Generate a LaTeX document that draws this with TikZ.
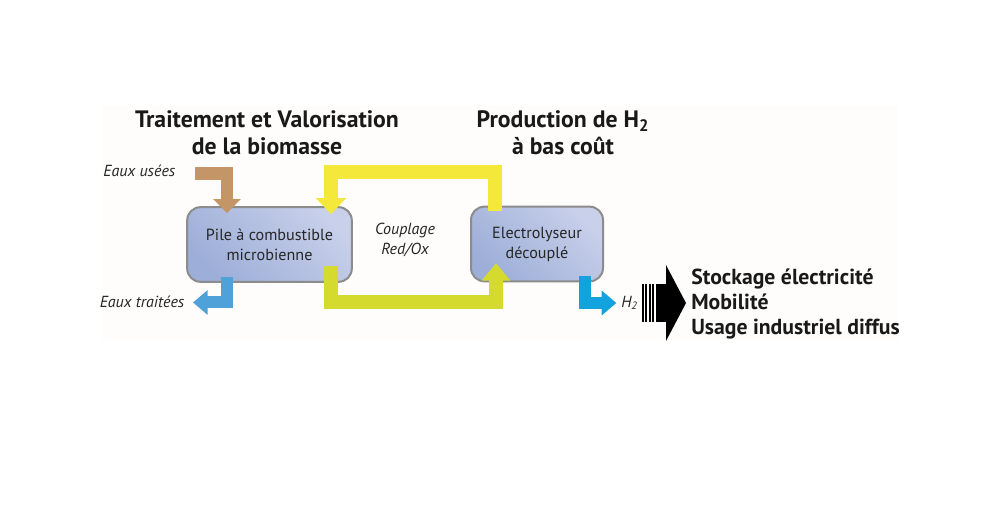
\documentclass[tikz,border=0pt]{standalone}
\usepackage{fontspec}
\setmainfont{PT Sans}
\usepackage{tikz}
\usetikzlibrary{arrows.meta}

\definecolor{paper}{HTML}{FEFDFB}
\definecolor{boxblue}{HTML}{9DAED8}
\definecolor{boxlight}{HTML}{C8D0EA}
\definecolor{boxedge}{HTML}{8C8C8C}
\definecolor{sewage}{HTML}{C39567}
\definecolor{redox}{HTML}{F4E83A}
\definecolor{redoxback}{HTML}{D4DB2E}
\definecolor{cleanwater}{HTML}{4EA2D9}
\definecolor{gasout}{HTML}{12A2DE}

\begin{document}
\begin{tikzpicture}[x=0.75pt, y=-0.75pt,
    title/.style={font=\bfseries\fontsize{17.8}{20.25}\selectfont, align=center, text=black!90},
    unit/.style={draw=boxedge, line width=1.5pt, rounded corners=10pt,
        top color=boxlight, bottom color=boxblue, shading angle=-45,
        minimum height=56pt, inner sep=0pt,
        align=center, text=black!85, font=\fontsize{12.1}{15}\selectfont},
    label/.style={font=\itshape\fontsize{12}{14.5}\selectfont, text=black!85},
    brownflow/.style={draw=sewage, line width=9.5pt, -{Triangle[width=20pt,length=10.5pt]}},
    yellowflow/.style={draw=redox, line width=11pt, -{Triangle[width=22pt,length=12pt]}},
    greenflow/.style={draw=redoxback, line width=10.5pt, -{Triangle[width=21pt,length=13pt]}},
    blueflow/.style={draw=#1, line width=9pt, -{Triangle[width=18pt,length=11pt]}}
]

    \useasboundingbox (0,0) rectangle (993,530);
    \fill[paper] (102,106) rectangle (898,340);

    \node[title] (biomass) at (267,133) {Traitement et Valorisation\\de la biomasse};
    \node[title] (hydrogen) at (563,133) {Production de H\textsubscript{2}\\à bas coût};

    \node[unit, minimum width=123.5pt] (pile) at (269.5,244.5) {Pile à combustible\\microbienne};
    \node[unit, minimum width=99pt] (electro) at (537,244) {Electrolyseur\\découplé};

    \node[label, align=center] (couplage) at (405,240) {Couplage\\Red/Ox};
    \node[label, anchor=east] (usees) at (180,171) {Eaux usées};
    \node[label, anchor=east] (traitees) at (189,302) {Eaux traitées};
    \node[label, anchor=west, inner sep=0pt] (h2) at (621,303) {H\textsubscript{2}};

    \coordinate (inlet) at (195,173.5);
    \coordinate (outlet) at (193,302.5);

    \draw[brownflow] (inlet) -| ([shift={(-42.5,7)}]pile.north);
    \draw[yellowflow] ([shift={(-42,5)}]electro.north) -- ++(0,-38.5) -| ([shift={(61.5,8)}]pile.north);
    \draw[greenflow] ([shift={(61.5,-17)}]pile.south) -- ++(0,36.5) -| ([shift={(-41,-19)}]electro.south);
    \draw[blueflow=cleanwater] ([shift={(-42.5,-6)}]pile.south) |- (outlet);
    \draw[blueflow=gasout] ([shift={(48,-6)}]electro.south) |- ([xshift=-3.5]h2.west);

    \foreach \s in {641.5,645,648.5,652}
        \fill[black] (\s,284) rectangle ++(2,38);
    \fill[black] (655.5,284) rectangle (667,322);
    \fill[black] (666,265) -- (686,303) -- (666,341) -- cycle;

    \node[font=\bfseries\fontsize{16.3}{18.75}\selectfont, align=left, anchor=west, inner sep=0pt, text=black!90] (uses) at (691,304)
        {Stockage électricité\\Mobilité\\Usage industriel diffus};
\end{tikzpicture}
\end{document}
